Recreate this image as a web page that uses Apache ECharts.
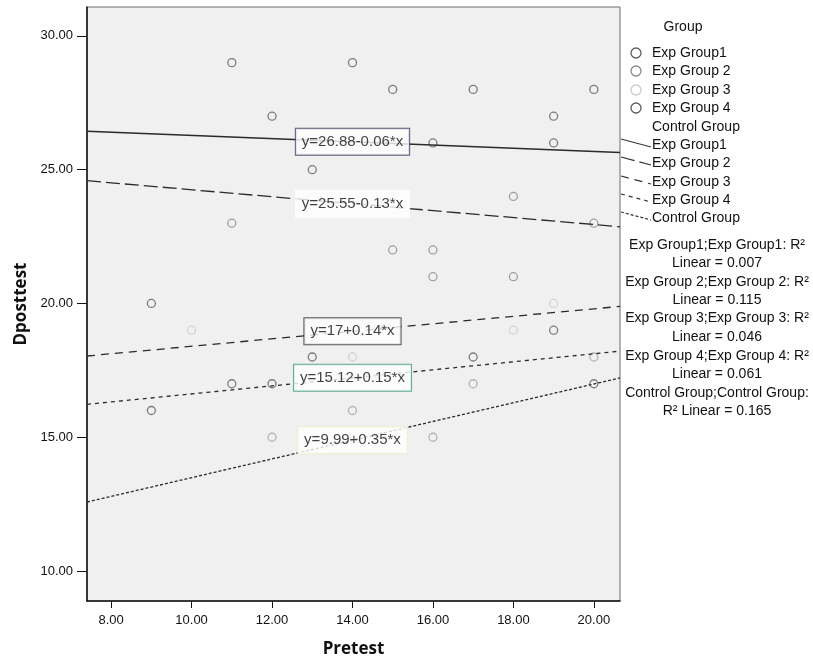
<!DOCTYPE html>
<html>
<head>
<meta charset="utf-8">
<script src="https://cdn.jsdelivr.net/npm/echarts@6/dist/echarts.min.js"></script>
<style>html,body{margin:0;padding:0;background:#fff;}#chart{width:813px;height:663px;}</style>
</head>
<body>
<div id="chart"></div>
<script>
// ---- data ----
const groupNames = ['Exp Group1', 'Exp Group 2', 'Exp Group 3', 'Exp Group 4', 'Control Group'];
const g1Pretest = [11, 14, 12, 15, 17, 20, 19, 19, 16, 13];
const g1Posttest = [29, 29, 27, 28, 28, 28, 27, 26, 26, 25];
const g2Pretest = [18, 20, 11, 15, 16, 16, 18];
const g2Posttest = [24, 23, 23, 22, 22, 21, 21];
const g3Pretest = [10, 18, 19, 14];
const g3Posttest = [19, 19, 20, 18];
const g4Pretest = [9, 19, 13, 17, 11, 12, 20, 9];
const g4Posttest = [20, 19, 18, 18, 17, 17, 17, 16];
const ctPretest = [20, 17, 14, 12, 16];
const ctPosttest = [18, 17, 16, 15, 15];
const intercepts = [26.88, 25.55, 17, 15.12, 9.99];
const slopes = [-0.06, -0.13, 0.14, 0.15, 0.35];
const rSquared = ['0.007', '0.115', '0.046', '0.061', '0.165'];
const xTicks = [8, 10, 12, 14, 16, 18, 20];
const yTicks = [10, 15, 20, 25, 30];
const labelX = 14;

// ---- style ----
const XMIN = 7.4, XMAX = 20.65, YMIN = 8.88, YMAX = 31.08;
const FONT = '"Liberation Sans", Arial, sans-serif';
const markerColors = ['#5e5e5e', '#8a8a8a', '#cdcdcd', '#5e5e5e', '#a5a5a5'];
const dashes = ['solid', [14, 5], [8, 6], [4, 4], [3, 2]];
const boxBorders = ['#35355a', '#ffffff', '#333333', '#3a9a80', '#efefc8'];

const pts = [
  [g1Pretest, g1Posttest], [g2Pretest, g2Posttest], [g3Pretest, g3Posttest],
  [g4Pretest, g4Posttest], [ctPretest, ctPosttest]
];

const series = [];
pts.forEach((p, i) => {
  series.push({
    name: groupNames[i], type: 'scatter', z: 3,
    data: p[0].map((x, k) => [x, p[1][k]]),
    symbol: 'circle', symbolSize: 8,
    itemStyle: { color: 'rgba(0,0,0,0)', borderColor: markerColors[i], borderWidth: 1.3 },
    silent: true
  });
});
intercepts.forEach((a, i) => {
  const b = slopes[i];
  series.push({
    name: groupNames[i] + ' fit', type: 'line', z: 4, symbol: 'none', silent: true,
    data: [[XMIN, a + b * XMIN], [XMAX, a + b * XMAX]],
    lineStyle: { color: '#2a2a2a', width: i === 0 ? 1.5 : 1.3, type: dashes[i] }
  });
  const txt = 'y=' + a + (b < 0 ? '-' : '+') + Math.abs(b) + '*x';
  series.push({
    name: groupNames[i] + ' eq', type: 'scatter', z: 10, silent: true,
    symbolSize: 1, itemStyle: { color: 'rgba(0,0,0,0)' },
    data: [[labelX, a + b * labelX]],
    label: {
      show: true, position: 'inside', formatter: txt,
      fontFamily: FONT, fontSize: 15, color: '#111',
      backgroundColor: '#ffffff', borderColor: boxBorders[i], borderWidth: 1,
      padding: [6, 6, 5, 6]
    }
  });
});

// ---- legend as graphics ----
const graphic = [];
const legX = 652;
graphic.push({ type: 'text', x: 683, y: 27, style: { text: 'Group', fontFamily: FONT, fontSize: 14, fill: '#111', align: 'center', verticalAlign: 'middle' } });
const markerY = [53, 71, 90, 108, 127];
const lineY = [145, 163, 182, 200, 218];
groupNames.forEach((n, i) => {
  if (i < 4) {
    graphic.push({ type: 'circle', shape: { cx: 636, cy: markerY[i], r: 5 }, style: { fill: 'none', stroke: markerColors[i], lineWidth: 1.3 } });
  }
  graphic.push({ type: 'text', x: legX, y: markerY[i], style: { text: n, fontFamily: FONT, fontSize: 14, fill: '#111', align: 'left', verticalAlign: 'middle' } });
  graphic.push({ type: 'line', shape: { x1: 621, y1: lineY[i] - 6, x2: 651, y2: lineY[i] + 2 },
    style: { stroke: '#333', lineWidth: 1.2, lineDash: dashes[i] === 'solid' ? null : dashes[i] } });
  graphic.push({ type: 'text', x: legX, y: lineY[i], style: { text: n, fontFamily: FONT, fontSize: 14, fill: '#111', align: 'left', verticalAlign: 'middle' } });
});
const r2Lines = [];
groupNames.forEach((n, i) => {
  if (i < 4) {
    r2Lines.push(n + ';' + n + ': R²');
    r2Lines.push('Linear = ' + rSquared[i]);
  } else {
    r2Lines.push(n + ';' + n + ':');
    r2Lines.push('R² Linear = ' + rSquared[i]);
  }
});
const r2Y = [245, 263, 282, 300, 318, 337, 356, 374, 393, 411];
r2Lines.forEach((t, k) => {
  graphic.push({ type: 'text', x: 717, y: r2Y[k], style: { text: t, fontFamily: FONT, fontSize: 14, fill: '#111', align: 'center', verticalAlign: 'middle' } });
});

const chart = echarts.init(document.getElementById('chart'), null, { renderer: 'canvas' });
chart.setOption({
  animation: false,
  backgroundColor: '#ffffff',
  grid: { left: 87, right: 193, top: 7, bottom: 62, show: true, backgroundColor: '#f0f0f0', borderColor: '#6a6a6a', borderWidth: 1 },
  xAxis: {
    type: 'value', min: XMIN, max: XMAX,
    name: 'Pretest', nameLocation: 'middle', nameGap: 40,
    nameTextStyle: { fontFamily: '"Open Sans", sans-serif', fontWeight: 'bold', fontSize: 17, color: '#111' },
    axisLine: { show: true, lineStyle: { color: '#111', width: 1.5 } },
    axisTick: { show: true, length: 7, customValues: xTicks, lineStyle: { color: '#111' } },
    axisLabel: { customValues: xTicks, formatter: v => Number(v).toFixed(2), fontFamily: FONT, fontSize: 13, color: '#111', margin: 13 },
    splitLine: { show: false }
  },
  yAxis: {
    type: 'value', min: YMIN, max: YMAX,
    name: 'Dposttest', nameLocation: 'middle', nameGap: 57, nameRotate: 90,
    nameTextStyle: { fontFamily: '"Open Sans", sans-serif', fontWeight: 'bold', fontSize: 17, color: '#111' },
    axisLine: { show: true, lineStyle: { color: '#111', width: 1.5 } },
    axisTick: { show: true, length: 10, customValues: yTicks, lineStyle: { color: '#111' } },
    axisLabel: { customValues: yTicks, formatter: v => Number(v).toFixed(2), fontFamily: FONT, fontSize: 13, color: '#111', margin: 14 },
    splitLine: { show: false }
  },
  series: series,
  graphic: graphic
});
</script>
</body>
</html>
